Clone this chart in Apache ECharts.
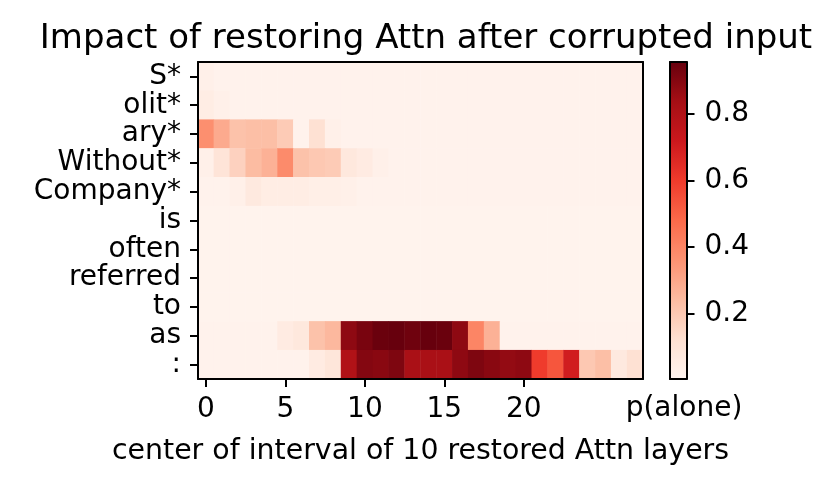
<!DOCTYPE html>
<html>
<head>
<meta charset="utf-8">
<script src="https://cdn.jsdelivr.net/npm/echarts@6/dist/echarts.min.js"></script>
<style>
html,body{margin:0;padding:0;background:#fff;}
#chart{width:829px;height:486px;}
</style>
</head>
<body>
<div id="chart"></div>
<script>
const rowLabels = ['S*','olit*','ary*','Without*','Company*','is','often','referred','to','as',':'];
const colLabels = ['0','1','2','3','4','5','6','7','8','9','10','11','12','13','14','15','16','17','18','19','20','21','22','23','24','25','26','27'];
const xTickLabels = ['0','5','10','15','20'];
const cbTicks = [0.2, 0.4, 0.6, 0.8];
const cbMin = 0.004, cbMax = 0.955;

const rowS        = [0.03,0.02,0.02,0.02,0.02,0.02,0.02,0.02,0.02,0.02,0.02,0.02,0.02,0.02,0.02,0.02,0.02,0.02,0.02,0.02,0.02,0.02,0.02,0.02,0.02,0.02,0.02,0.02];
const rowOlit     = [0.05,0.03,0.02,0.02,0.02,0.02,0.02,0.02,0.02,0.02,0.02,0.02,0.02,0.02,0.02,0.02,0.02,0.02,0.02,0.02,0.02,0.02,0.02,0.02,0.02,0.02,0.02,0.02];
const rowAry      = [0.37,0.29,0.22,0.23,0.23,0.19,0.02,0.12,0.03,0.02,0.02,0.02,0.02,0.02,0.02,0.02,0.02,0.02,0.02,0.02,0.02,0.02,0.02,0.02,0.02,0.02,0.02,0.02];
const rowWithout  = [0.03,0.10,0.17,0.24,0.27,0.38,0.22,0.20,0.19,0.08,0.06,0.03,0.02,0.02,0.02,0.02,0.02,0.02,0.02,0.02,0.02,0.02,0.02,0.02,0.02,0.02,0.02,0.02];
const rowCompany  = [0.02,0.02,0.03,0.07,0.05,0.05,0.05,0.04,0.04,0.03,0.02,0.02,0.02,0.02,0.02,0.02,0.02,0.02,0.02,0.02,0.02,0.02,0.02,0.02,0.02,0.02,0.02,0.02];
const rowIs       = [0.015,0.015,0.015,0.015,0.015,0.015,0.015,0.015,0.015,0.015,0.015,0.015,0.015,0.015,0.015,0.015,0.015,0.015,0.015,0.015,0.015,0.015,0.015,0.015,0.015,0.015,0.015,0.015];
const rowOften    = [0.015,0.015,0.015,0.015,0.015,0.015,0.015,0.015,0.015,0.015,0.015,0.015,0.015,0.015,0.015,0.015,0.015,0.015,0.015,0.015,0.015,0.015,0.015,0.015,0.015,0.015,0.015,0.015];
const rowReferred = [0.015,0.015,0.015,0.015,0.015,0.015,0.015,0.015,0.015,0.015,0.015,0.015,0.015,0.015,0.015,0.015,0.015,0.015,0.015,0.015,0.015,0.015,0.015,0.015,0.015,0.015,0.015,0.015];
const rowTo       = [0.015,0.015,0.015,0.015,0.015,0.015,0.015,0.015,0.015,0.015,0.015,0.015,0.015,0.015,0.015,0.015,0.015,0.015,0.015,0.015,0.015,0.015,0.015,0.015,0.015,0.015,0.015,0.015];
const rowAs       = [0.02,0.02,0.02,0.02,0.02,0.06,0.08,0.22,0.25,0.88,0.92,0.95,0.96,0.94,0.96,0.95,0.88,0.40,0.27,0.02,0.02,0.02,0.02,0.02,0.02,0.02,0.02,0.02];
const rowColon    = [0.02,0.02,0.02,0.02,0.02,0.02,0.02,0.06,0.09,0.80,0.90,0.89,0.91,0.82,0.82,0.82,0.88,0.91,0.89,0.87,0.88,0.60,0.53,0.70,0.20,0.23,0.07,0.12];

const rows = [rowS,rowOlit,rowAry,rowWithout,rowCompany,rowIs,rowOften,rowReferred,rowTo,rowAs,rowColon];
const heatData = [];
rows.forEach((r, yi) => r.forEach((v, xi) => heatData.push([xi, yi, v])));

const FONT = 'DejaVu Sans';
const reds = ['#fff5f0','#fee0d2','#fcbba1','#fc9272','#fb6a4a','#ef3b2c','#cb181d','#a50f15','#67000d'];
const black = '#000';
const lineW = 2;

const chart = echarts.init(document.getElementById('chart'), null, {renderer: 'canvas'});
chart.setOption({
  animation: false,
  backgroundColor: '#fff',
  title: [
    {text: 'Impact of restoring Attn after corrupted input', left: 421, textAlign: 'center', top: 17,
     textStyle: {fontFamily: FONT, fontSize: 34, fontWeight: 'normal', color: black}},
    {text: 'p(alone)', left: 679, textAlign: 'center', top: 390,
     textStyle: {fontFamily: FONT, fontSize: 28, fontWeight: 'normal', color: black}}
  ],
  grid: [
    {left: 198, top: 62, width: 445, height: 317, containLabel: false},
    {left: 670, top: 62, width: 16.5, height: 317, containLabel: false}
  ],
  xAxis: [
    {type: 'category', gridIndex: 0, data: colLabels, position: 'bottom',
     axisLine: {show: true, lineStyle: {color: black, width: lineW}},
     axisTick: {show: true, alignWithLabel: true, length: 8, lineStyle: {color: black, width: lineW},
       interval: (i, v) => xTickLabels.indexOf(v) >= 0},
     axisLabel: {interval: (i, v) => xTickLabels.indexOf(v) >= 0, margin: 17, fontFamily: FONT, fontSize: 28, color: black},
     splitLine: {show: false},
     name: 'center of interval of 10 restored Attn layers', nameLocation: 'middle', nameGap: 59,
     nameTextStyle: {fontFamily: FONT, fontSize: 28.4, color: black}, z: 10},
    {type: 'category', gridIndex: 0, data: colLabels, position: 'top',
     axisLine: {show: true, lineStyle: {color: black, width: lineW}},
     axisTick: {show: false}, axisLabel: {show: false}, splitLine: {show: false}, z: 10},
    {type: 'value', gridIndex: 1, position: 'bottom', min: 0, max: 1,
     axisLine: {show: true, onZero: false, lineStyle: {color: black, width: lineW}},
     axisTick: {show: false}, axisLabel: {show: false}, splitLine: {show: false}, z: 10},
    {type: 'value', gridIndex: 1, position: 'top', min: 0, max: 1,
     axisLine: {show: true, onZero: false, lineStyle: {color: black, width: lineW}},
     axisTick: {show: false}, axisLabel: {show: false}, splitLine: {show: false}, z: 10}
  ],
  yAxis: [
    {type: 'category', gridIndex: 0, data: rowLabels, inverse: true, position: 'left',
     axisLine: {show: true, lineStyle: {color: black, width: lineW}},
     axisTick: {show: true, alignWithLabel: true, interval: 0, length: 8, lineStyle: {color: black, width: lineW}},
     axisLabel: {interval: 0, hideOverlap: false, margin: 17, fontFamily: FONT, fontSize: 28, color: black},
     splitLine: {show: false}, z: 10},
    {type: 'category', gridIndex: 0, data: rowLabels, inverse: true, position: 'right',
     axisLine: {show: true, lineStyle: {color: black, width: lineW}},
     axisTick: {show: false}, axisLabel: {show: false}, splitLine: {show: false}, z: 10},
    {type: 'value', gridIndex: 1, position: 'right', min: cbMin, max: cbMax,
     axisLine: {show: true, onZero: false, lineStyle: {color: black, width: lineW}},
     axisTick: {show: true, length: 8, lineStyle: {color: black, width: lineW}, customValues: cbTicks},
     axisLabel: {margin: 18, fontFamily: FONT, fontSize: 28, color: black, customValues: cbTicks,
       formatter: v => v.toFixed(1)},
     splitLine: {show: false}, z: 10},
    {type: 'value', gridIndex: 1, position: 'left', min: cbMin, max: cbMax,
     axisLine: {show: true, onZero: false, lineStyle: {color: black, width: lineW}},
     axisTick: {show: false}, axisLabel: {show: false}, splitLine: {show: false}, z: 10}
  ],
  visualMap: {
    type: 'continuous', min: cbMin, max: cbMax, seriesIndex: 0, show: true,
    calculable: false, hoverLink: false, orient: 'vertical',
    left: 670, top: 62, itemWidth: 16.5, itemHeight: 317, padding: 0, text: null,
    inRange: {color: reds}, textStyle: {color: 'transparent'}
  },
  series: [{
    type: 'heatmap', xAxisIndex: 0, yAxisIndex: 0, data: heatData,
    itemStyle: {borderWidth: 0}, emphasis: {disabled: true}, progressive: 0
  }]
});
</script>
</body>
</html>
